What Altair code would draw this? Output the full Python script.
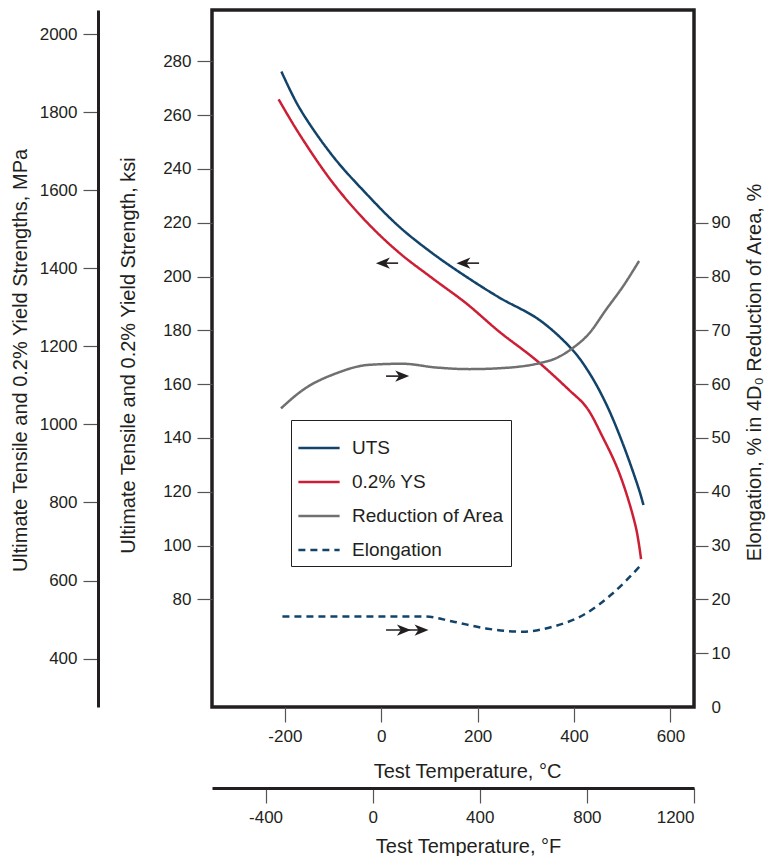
import altair as alt
import pandas as pd

FONT = "Liberation Sans, Arial, sans-serif"
INK = "#231f20"

# ---- series definitions ----
series_names = ["UTS", "0.2% YS", "Reduction of Area", "Elongation"]
series_colors = ["#12436a", "#cc1f36", "#707070", "#12436a"]
series_dashes = [[1, 0], [1, 0], [1, 0], [7, 5]]

# ---- data (temperature in °C) ----
uts_temp = [-207, -170, -101, -32, 37, 106, 176, 245, 328, 397, 432, 466, 501, 535, 544]
uts_ksi = [276.2, 262.8, 244.9, 231.0, 218.6, 208.7, 200.0, 192.2, 183.9, 172.7, 164.1, 152.9, 138.0, 120.7, 115.1]

ys_temp = [-213, -170, -101, -32, 37, 106, 176, 245, 321, 390, 425, 459, 494, 528, 539]
ys_ksi = [265.9, 253.0, 235.0, 220.6, 208.9, 199.4, 190.1, 179.5, 169.0, 157.8, 151.6, 140.5, 126.9, 107.0, 95.0]

ra_temp = [-208, -163, -94, -25, 44, 114, 183, 252, 328, 362, 397, 432, 466, 501, 535]
ra_pct = [55.5, 58.9, 62.0, 63.6, 63.8, 63.1, 62.8, 63.0, 63.9, 64.8, 66.7, 69.5, 73.8, 78.1, 82.9]

el_temp = [-205, -66, 93, 148, 217, 293, 355, 425, 480, 539]
el_pct = [16.8, 16.8, 16.8, 15.9, 14.6, 14.0, 14.9, 17.4, 21.1, 26.4]

# ---- axes ----
c_ticks = [-200, 0, 200, 400, 600]
f_ticks = [-400, 0, 400, 800, 1200]
ksi_ticks = [80, 100, 120, 140, 160, 180, 200, 220, 240, 260, 280]
mpa_ticks = [400, 600, 800, 1000, 1200, 1400, 1600, 1800, 2000]
pct_ticks = [0, 10, 20, 30, 40, 50, 60, 70, 80, 90]

c_domain = [-351.1, 648.9]
f_domain = [-600, 1200]
ksi_domain = [40, 299.1]
pct_domain = [0, 129.55]
mpa_domain = [ksi_domain[0] * 6.895, ksi_domain[1] * 6.895]

# ---- direction arrows (°C, value) ----
ksi_arrow_tail = [35, 203]
ksi_arrow_head = [3.5, 170.5]
ksi_arrow_y = [205, 205]

pct_arrow_tail = [10, 10]
pct_arrow_end = [43.5, 83.6]
pct_arrow_y = [61.5, 14.3]
pct_head_x = [43.5, 47.1, 83.6]
pct_head_y = [61.5, 14.3, 14.3]

LEFT_HEAD = "M-1,0L1,-0.8L0.45,0L1,0.8Z"
RIGHT_HEAD = "M1,0L-1,-0.8L-0.45,0L-1,0.8Z"
LBL = "datum.value + ''"

ksi_df = pd.concat([
    pd.DataFrame({"T": uts_temp, "v": uts_ksi, "series": "UTS"}),
    pd.DataFrame({"T": ys_temp, "v": ys_ksi, "series": "0.2% YS"}),
])
pct_df = pd.concat([
    pd.DataFrame({"T": ra_temp, "v": ra_pct, "series": "Reduction of Area"}),
    pd.DataFrame({"T": el_temp, "v": el_pct, "series": "Elongation"}),
])

LEG = alt.Legend(
    title=None, orient="none", legendX=79, legendY=410, direction="vertical",
    strokeColor=INK, fillColor="white", padding=6, symbolType="stroke",
    symbolSize=1700, symbolStrokeWidth=2.5, labelFont=FONT, labelFontSize=19,
    labelColor=INK, labelOffset=11, rowPadding=2, cornerRadius=0, labelLimit=300,
)
color = alt.Color("series:N", scale=alt.Scale(domain=series_names, range=series_colors), legend=LEG)
dash = alt.StrokeDash("series:N", scale=alt.Scale(domain=series_names, range=series_dashes), legend=LEG)

xs = alt.Scale(domain=c_domain, nice=False, zero=False)
ks = alt.Scale(domain=ksi_domain, nice=False, zero=False)
ps = alt.Scale(domain=pct_domain, nice=False, zero=False)

ksi_lines = alt.Chart(ksi_df).mark_line(strokeWidth=2.5, interpolate="catmull-rom").encode(
    x=alt.X("T:Q", scale=xs, axis=alt.Axis(
        orient="bottom", values=c_ticks, domain=False, tickSize=15, labelPadding=6,
        labelExpr=LBL,
        title="Test Temperature, °C", titleX=255, titleY=64, titleBaseline="middle")),
    y=alt.Y("v:Q", scale=ks, axis=alt.Axis(
        orient="left", values=ksi_ticks, domain=False, tickSize=15, labelPadding=6,
        labelExpr=LBL,
        title="Ultimate Tensile and 0.2% Yield Strength, ksi",
        titleX=-84, titleY=345, titleAngle=270, titleBaseline="middle")),
    color=color, strokeDash=dash,
)

pct_lines = alt.Chart(pct_df).mark_line(strokeWidth=2.5, interpolate="monotone").encode(
    x=alt.X("T:Q", scale=xs, axis=None),
    y=alt.Y("v:Q", scale=ps, axis=alt.Axis(
        orient="right", values=pct_ticks, domain=False, tickSize=14, labelPadding=3,
        labelExpr=LBL,
        tickOpacity={"condition": {"test": "datum.value === 0", "value": 0}, "value": 1},
        title="Elongation, % in 4D\u2080  Reduction of Area, %",
        titleX=60, titleY=362, titleAngle=270, titleBaseline="middle")),
    color=color, strokeDash=dash,
)

mpa_axis = alt.Chart(pd.DataFrame({"mpa": mpa_ticks})).mark_point(opacity=0).encode(
    x=alt.value(0),
    y=alt.Y("mpa:Q", scale=alt.Scale(domain=mpa_domain, nice=False, zero=False), axis=alt.Axis(
        orient="left", offset=114, values=mpa_ticks, domain=True, domainColor=INK, domainWidth=3,
        tickSize=15, labelPadding=6, labelExpr=LBL,
        title="Ultimate Tensile and 0.2% Yield Strengths, MPa",
        titleX=-78, titleY=350, titleAngle=270, titleBaseline="middle")),
)

f_axis = alt.Chart(pd.DataFrame({"F": f_ticks})).mark_point(opacity=0).encode(
    x=alt.X("F:Q", scale=alt.Scale(domain=f_domain, nice=False, zero=False), axis=alt.Axis(
        orient="bottom", offset=81, values=f_ticks, domain=True, domainColor=INK, domainWidth=3,
        tickSize=15, labelPadding=6, labelExpr=LBL,
        title="Test Temperature, °F", titleX=256, titleY=58, titleBaseline="middle")),
    y=alt.value(0),
)

ksi_arrow_df = pd.DataFrame({"head": ksi_arrow_head, "tail": ksi_arrow_tail, "y": ksi_arrow_y})
ksi_shafts = alt.Chart(ksi_arrow_df).mark_rule(color=INK, strokeWidth=1.6).encode(
    x=alt.X("head:Q", scale=xs, axis=None), x2="tail:Q",
    y=alt.Y("y:Q", scale=ks, axis=None),
)
ksi_heads = alt.Chart(ksi_arrow_df).mark_point(
    shape=LEFT_HEAD, filled=True, size=196, color=INK, opacity=1, strokeWidth=0
).encode(
    x=alt.X("head:Q", scale=xs, axis=None),
    y=alt.Y("y:Q", scale=ks, axis=None),
)

pct_arrow_df = pd.DataFrame({"tail": pct_arrow_tail, "end": pct_arrow_end, "y": pct_arrow_y})
pct_shafts = alt.Chart(pct_arrow_df).mark_rule(color=INK, strokeWidth=1.6).encode(
    x=alt.X("tail:Q", scale=xs, axis=None), x2="end:Q",
    y=alt.Y("y:Q", scale=ps, axis=None),
)
pct_heads = alt.Chart(pd.DataFrame({"hx": pct_head_x, "hy": pct_head_y})).mark_point(
    shape=RIGHT_HEAD, filled=True, size=196, color=INK, opacity=1, strokeWidth=0
).encode(
    x=alt.X("hx:Q", scale=xs, axis=None),
    y=alt.Y("hy:Q", scale=ps, axis=None),
)

chart = alt.layer(
    ksi_lines, pct_lines, mpa_axis, f_axis, ksi_shafts, ksi_heads, pct_shafts, pct_heads
).resolve_scale(
    x="independent", y="independent"
).properties(
    width=482, height=697,
    autosize=alt.AutoSizeParams(type="none"),
    padding={"left": 204, "top": 2, "right": 72, "bottom": 149},
).configure_view(
    stroke=INK, strokeWidth=3.5
).configure_axis(
    labelFont=FONT, titleFont=FONT, labelColor=INK, titleColor=INK,
    labelFontSize=17, titleFontSize=20, titleFontWeight="normal",
    grid=False, tickColor="#555", tickWidth=1.2,
)

chart.save("out.html", embed_options={"renderer": "svg", "actions": False})
